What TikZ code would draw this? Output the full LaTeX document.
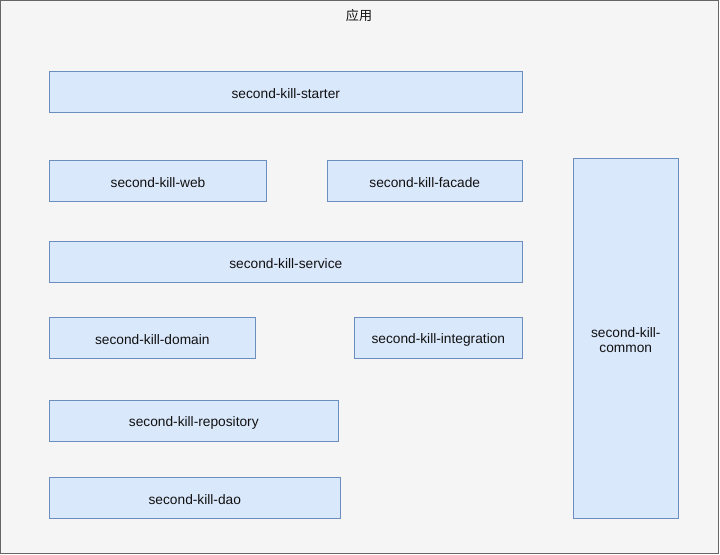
\documentclass[tikz,border=0pt]{standalone}
\usepackage{fontspec}
\setmainfont{Liberation Sans}
\newfontfamily\cjk{Noto Sans CJK SC}
\definecolor{bgfill}{HTML}{F5F5F5}
\definecolor{bgline}{HTML}{666666}
\definecolor{boxfill}{HTML}{DAE8FC}
\definecolor{boxline}{HTML}{6C8EBF}
\definecolor{txt}{HTML}{111111}
\begin{document}
\begin{tikzpicture}[x=0.75pt,y=-0.75pt,
  modbox/.style={draw=boxline,fill=boxfill,line width=0.75pt},
  lbl/.style={font=\fontsize{10.3}{11.7}\selectfont,text=txt,align=center,inner sep=0pt}]
\useasboundingbox (0,0) rectangle (720,555);
\draw[fill=bgfill,draw=bgline,line width=0.75pt] (0.5,0.5) rectangle (718.5,553.5);
\node[lbl,font=\cjk\fontsize{9.8}{11}\selectfont] (title) at (359,15.5) {应用};
% boxes
\draw[modbox] (49.3,71.3) rectangle (522.3,112.3);
\node[lbl] (starter) at (285.8,94) {second-kill-starter};
\draw[modbox] (49.3,160.3) rectangle (266.7,201.3);
\node[lbl] (web) at (158,183) {second-kill-web};
\draw[modbox] (327.3,160.3) rectangle (522.3,201.3);
\node[lbl] (facade) at (424.8,183) {second-kill-facade};
\draw[modbox] (49.3,241.3) rectangle (522.3,282.3);
\node[lbl] (service) at (285.8,264) {second-kill-service};
\draw[modbox] (49.3,317.7) rectangle (255.3,359);
\node[lbl] (domain) at (152.3,340) {second-kill-domain};
\draw[modbox] (354.3,317.7) rectangle (522.3,359);
\node[lbl] (integration) at (438.3,340) {second-kill-integration};
\draw[modbox] (49.3,400.3) rectangle (338.3,441.3);
\node[lbl] (repository) at (193.8,423) {second-kill-repository};
\draw[modbox] (49.3,477.7) rectangle (340.3,518.3);
\node[lbl] (dao) at (194.8,500) {second-kill-dao};
\draw[modbox] (573.3,158.3) rectangle (678.3,518.3);
\node[lbl] (common) at (625.8,340) {second-kill-\\common};
\end{tikzpicture}
\end{document}
